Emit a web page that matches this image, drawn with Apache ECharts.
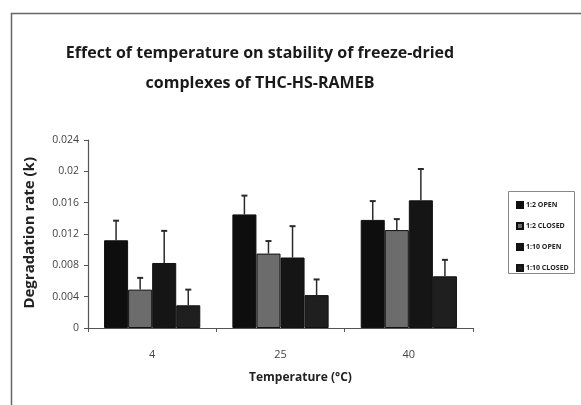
<!DOCTYPE html>
<html>
<head>
<meta charset="utf-8">
<script src="https://cdn.jsdelivr.net/npm/echarts@6/dist/echarts.min.js"></script>
<style>
  html, body { margin: 0; padding: 0; background: #fff; }
  #chart { width: 581px; height: 405px; }
</style>
</head>
<body>
<div id="chart"></div>
<script>
// categories (temperature, °C)
const temps = ['4', '25', '40'];

// degradation rate k per sample
const open12 = [0.0112, 0.0145, 0.0138];
const closed12 = [0.0049, 0.0095, 0.0125];
const open110 = [0.0083, 0.0090, 0.0163];
const closed110 = [0.0029, 0.0042, 0.0066];

// upper error bar lengths
const open12Err = [0.0025, 0.0024, 0.0024];
const closed12Err = [0.0015, 0.0016, 0.0014];
const open110Err = [0.0041, 0.0040, 0.0040];
const closed110Err = [0.0020, 0.0020, 0.0021];

const names = ['1:2 OPEN', '1:2 CLOSED', '1:10 OPEN', '1:10 CLOSED'];
const colors = ['#0e0e0e', '#6c6c6c', '#151515', '#1f1f1f'];
const values = [open12, closed12, open110, closed110];
const errors = [open12Err, closed12Err, open110Err, closed110Err];

const FONT = '"Open Sans", sans-serif';
const GAP = 0.25;

const chart = echarts.init(document.getElementById('chart'));

// error bar series: draws whisker above each bar
function errorSeries(idx) {
  const data = temps.map((t, i) => [i, values[idx][i], values[idx][i] + errors[idx][i]]);
  return {
    type: 'custom',
    name: names[idx] + ' err',
    z: 5,
    data: data,
    encode: { x: 0, y: [1, 2] },
    renderItem: function (params, api) {
      const catW = api.size([1, 0])[0];
      const barW = catW * (1 - GAP) / 4;
      const base = api.coord([api.value(0), api.value(1)]);
      const top = api.coord([api.value(0), api.value(2)]);
      const x = base[0] + (idx - 1.5) * barW;
      return {
        type: 'group',
        children: [
          { type: 'line', shape: { x1: x, y1: base[1], x2: x, y2: top[1] }, style: { stroke: '#2a2a2a', lineWidth: 1.5 } },
          { type: 'line', shape: { x1: x - 3, y1: top[1], x2: x + 3, y2: top[1] }, style: { stroke: '#2a2a2a', lineWidth: 2 } }
        ]
      };
    }
  };
}

const barSeries = names.map((n, i) => ({
  type: 'bar',
  name: n,
  data: values[i],
  barGap: '0%',
  barCategoryGap: (GAP * 100) + '%',
  itemStyle: { color: colors[i], borderColor: '#111', borderWidth: 1 }
}));

const option = {
  animation: false,
  backgroundColor: '#fff',
  title: {
    text: 'Effect of temperature on stability of freeze-dried\ncomplexes of THC-HS-RAMEB',
    left: 255,
    textAlign: 'center',
    top: 33,
    textStyle: { fontFamily: FONT, fontWeight: 'bold', fontSize: 16, color: '#1a1a1a', lineHeight: 30 }
  },
  legend: {
    data: names,
    orient: 'vertical',
    left: 511,
    top: 196,
    itemWidth: 6,
    itemHeight: 6,
    itemGap: 13,
    icon: 'rect',
    textStyle: { fontFamily: FONT, fontSize: 7, fontWeight: 'bold', color: '#222', padding: [0, 0, 0, -2] }
  },
  grid: { left: 88, right: 108, top: 140, bottom: 77 },
  xAxis: {
    type: 'category',
    data: temps,
    axisLine: { lineStyle: { color: '#555', width: 1.2 } },
    axisTick: { show: true, length: 4, lineStyle: { color: '#555' } },
    axisLabel: { fontFamily: FONT, fontSize: 11, color: '#444', margin: 21 }
  },
  yAxis: {
    type: 'value',
    min: 0,
    max: 0.024,
    interval: 0.004,
    axisLine: { show: true, lineStyle: { color: '#555', width: 1.2 } },
    axisTick: { show: true, length: 4, lineStyle: { color: '#555' } },
    splitLine: { show: false },
    axisLabel: {
      fontFamily: FONT, fontSize: 10.5, color: '#444', margin: 9,
      formatter: v => String(parseFloat(v.toFixed(3)))
    }
  },
  graphic: [
    {
      type: 'rect', left: 9, top: 11, z: -1,
      shape: { width: 590, height: 400 },
      style: { fill: 'none', stroke: '#666', lineWidth: 1.5 }
    },
    {
      type: 'rect', left: 508, top: 191, z: 0,
      shape: { width: 66, height: 82 },
      style: { fill: '#fff', stroke: '#888', lineWidth: 1 }
    },
    {
      type: 'text', left: 22, top: 157, rotation: Math.PI / 2,
      style: { text: 'Degradation rate (k)', fontFamily: FONT, fontWeight: 'bold', fontSize: 15, fill: '#222' }
    },
    {
      type: 'text', left: 249, top: 372,
      style: { text: 'Temperature (°C)', fontFamily: FONT, fontWeight: 'bold', fontSize: 12, fill: '#222' }
    }
  ],
  series: barSeries.concat(names.map((n, i) => errorSeries(i)))
};

chart.setOption(option);
</script>
</body>
</html>
